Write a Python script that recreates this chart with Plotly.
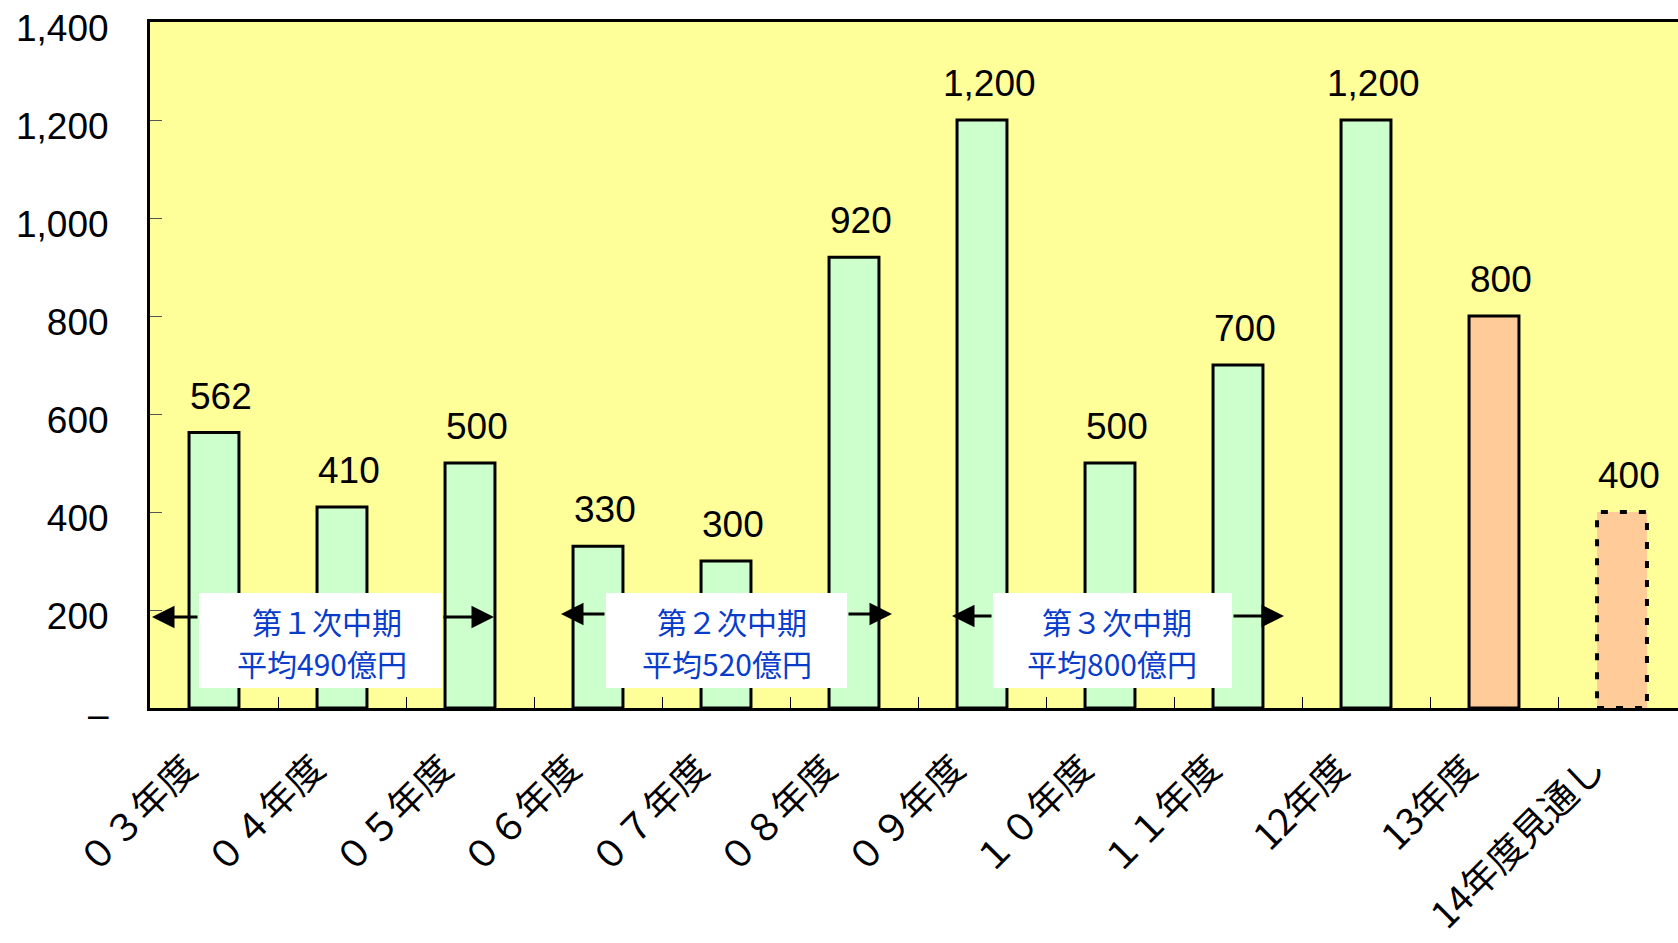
import plotly.graph_objects as go

# ---------------- data ----------------
categories = ["０３年度", "０４年度", "０５年度", "０６年度", "０７年度", "０８年度",
              "０９年度", "１０年度", "１１年度", "12年度", "13年度", "14年度見通し"]
values = [562, 410, 500, 330, 300, 920, 1200, 500, 700, 1200, 800, 400]
y_tick_values = [0, 200, 400, 600, 800, 1000, 1200, 1400]
y_tick_labels = ["–", "200", "400", "600", "800", "1,000", "1,200", "1,400"]
period_names = ["第１次中期", "第２次中期", "第３次中期"]
period_avgs = [490, 520, 800]

# ---------------- geometry helpers (pixel -> data) ----------------
W, H = 1678, 943
PLOT_L, PLOT_T, PLOT_B = 150, 22, 708
CAT_W = 128
YMAX = 1400


def dx(px):
    return (px - PLOT_L) / CAT_W - 0.5


def dy(py):
    return (PLOT_B - py) / (PLOT_B - PLOT_T) * YMAX


FONT = "Noto Sans CJK JP"
NUM_FONT = "Liberation Sans"
GREEN = "#CCFFCC"
ORANGE = "#FFCC99"
BG = "#FFFF99"
BLUE = "#0A3CCC"
BAR_W = 0.39

n = len(categories)
recent = [c.startswith("13") or c.startswith("14") for c in categories]
colors = [ORANGE if r else GREEN for r in recent]
line_w = [3] * (n - 1) + [0]

fig = go.Figure()
fig.add_trace(go.Bar(
    x=categories, y=values, width=BAR_W,
    marker=dict(color=colors, line=dict(color="black", width=line_w)),
    hoverinfo="skip", showlegend=False,
))

# dotted outline for the forecast bar
last = n - 1
fig.add_shape(type="rect", xref="x", yref="y",
              x0=last - BAR_W / 2, x1=last + BAR_W / 2, y0=0, y1=values[last],
              line=dict(color="black", width=4, dash="7px,12px"),
              fillcolor="rgba(0,0,0,0)", layer="above")

annotations = []
# value labels
for c, v in zip(categories, values):
    annotations.append(dict(
        x=c, y=v, xref="x", yref="y", text=f"{v:,}", showarrow=False,
        yanchor="bottom", yshift=14, xshift=7,
        font=dict(family=NUM_FONT, size=37, color="black")))

# period boxes and arrows (pixel positions measured on the layout)
boxes = [(199, 442, 593, 688), (606, 847, 593, 688), (993, 1232, 593, 688)]
arrows = [(617, 152, 494), (614, 561, 892), (616, 952, 1284)]
for (bl, br, bt, bb), (ay, tl, tr), name, avg in zip(boxes, arrows, period_names, period_avgs):
    fig.add_shape(type="rect", xref="x", yref="y",
                  x0=dx(bl), x1=dx(br), y0=dy(bb), y1=dy(bt),
                  fillcolor="white", line=dict(width=0), layer="above")
    annotations.append(dict(
        x=dx(br - 39), y=dy(bt + 28), xref="x", yref="y",
        text=name, showarrow=False, xanchor="right", yanchor="middle", borderpad=0,
        font=dict(family=FONT, size=30, color=BLUE)))
    annotations.append(dict(
        x=dx(br - 34), y=dy(bt + 70), xref="x", yref="y",
        text=f"平均{avg}億円", showarrow=False, xanchor="right", yanchor="middle", borderpad=0,
        font=dict(family=FONT, size=30, color=BLUE)))
    for tail, tip in ((bl, tl), (br, tr)):
        annotations.append(dict(
            x=dx(tip), y=dy(ay), ax=dx(tail), ay=dy(ay),
            xref="x", yref="y", axref="x", ayref="y", text="",
            showarrow=True, arrowhead=2, arrowsize=1.5, arrowwidth=3,
            arrowcolor="black", standoff=0, startstandoff=0))

fig.update_layout(
    width=W, height=H,
    margin=dict(l=PLOT_L, r=0, t=PLOT_T, b=H - PLOT_B, pad=0),
    paper_bgcolor="white", plot_bgcolor=BG,
    font=dict(family=FONT, size=37, color="black"),
    annotations=annotations, showlegend=False, bargap=0.6,
)
fig.update_xaxes(
    type="category", range=[-0.5, (W - PLOT_L) / CAT_W - 0.5],
    showline=True, linecolor="black", linewidth=3, mirror=True,
    ticks="inside", tickson="boundaries", ticklen=11, tickwidth=1, tickcolor="black",
    tickangle=-45, tickfont=dict(family=FONT, size=37, color="black"),
    ticklabelstandoff=21, ticklabelshift=-28, ticklabeloverflow="allow",
    showgrid=False, zeroline=False, automargin=False,
)
fig.update_yaxes(
    range=[0, YMAX], tickvals=y_tick_values, ticktext=y_tick_labels,
    showline=True, linecolor="black", linewidth=3, mirror=False,
    ticks="inside", ticklen=12, tickwidth=1, tickcolor="#555555",
    tickfont=dict(family=NUM_FONT, size=37, color="black"),
    ticklabelstandoff=31, ticklabelshift=6, ticklabeloverflow="allow",
    showgrid=False, zeroline=False, automargin=False,
)

fig.write_html("out.html")
